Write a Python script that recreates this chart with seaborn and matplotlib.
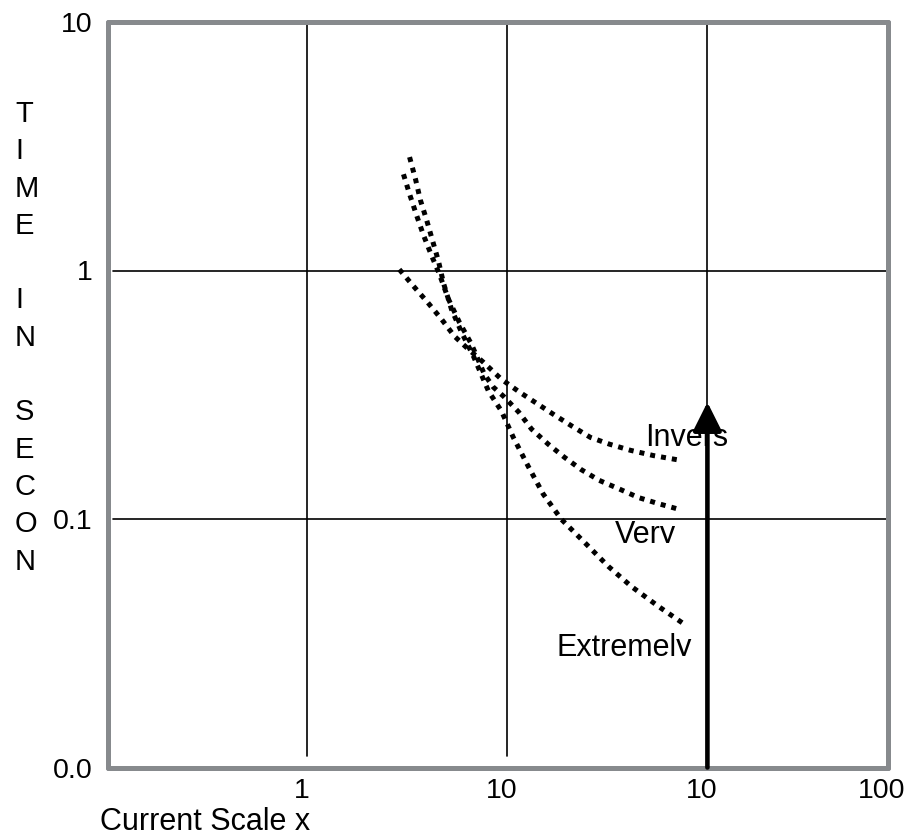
import numpy as np
import pandas as pd
import matplotlib
matplotlib.use("Agg")
import matplotlib.pyplot as plt
import matplotlib.transforms as mtransforms
from matplotlib.patches import Rectangle
import seaborn as sns

# curve data (current multiple vs time in seconds)
ext_x = [3.24, 3.47, 3.67, 3.94, 4.22, 4.52, 4.79, 5.25, 5.89, 6.76, 8.04,
         9.33, 10.7, 12.7, 15.1, 18.6, 24.3, 32.0, 41.7, 56.9, 76.7]
ext_y = [2.86, 2.33, 1.92, 1.60, 1.32, 1.09, 0.889, 0.698, 0.565, 0.452, 0.327,
         0.272, 0.213, 0.163, 0.126, 0.0997, 0.0805, 0.0644, 0.0535, 0.0445, 0.0377]

very_x = [3.02, 3.24, 3.51, 3.80, 4.17, 4.57, 5.07, 5.75, 6.61, 7.67, 8.51,
          9.55, 11.4, 13.2, 16.0, 19.3, 23.4, 28.8, 36.3, 45.2, 57.5, 73.3]
very_y = [2.44, 2.03, 1.67, 1.39, 1.15, 0.966, 0.767, 0.619, 0.505, 0.382, 0.339,
          0.312, 0.269, 0.230, 0.200, 0.177, 0.158, 0.143, 0.132, 0.122, 0.115, 0.109]

inv_x = [2.88, 3.39, 3.98, 4.68, 5.43, 6.38, 7.59, 9.33, 11.5, 14.0, 17.2,
         21.1, 26.0, 32.4, 41.2, 53.7, 74.1]
inv_y = [1.01, 0.865, 0.746, 0.637, 0.544, 0.482, 0.427, 0.365, 0.324, 0.292, 0.262,
         0.236, 0.213, 0.200, 0.189, 0.180, 0.172]

xticks = [1, 10, 100, 800]
xtick_labels = ["1", "10", "10", "100"]
yticks = [0.01, 0.1, 1, 10]
ytick_labels = ["0.0", "0.1", "1", "10"]
grid_x = [1, 10, 100]
grid_y = [1, 0.1]

arrow_x = 100
arrow_from = 0.01
arrow_to = 0.295

ylabel = "TIME IN SECON"
xlabel = "Current Scale x"

df = pd.concat([
    pd.DataFrame({"x": ext_x, "y": ext_y, "curve": "Extremely"}),
    pd.DataFrame({"x": very_x, "y": very_y, "curve": "Very"}),
    pd.DataFrame({"x": inv_x, "y": inv_y, "curve": "Invers"}),
], ignore_index=True)

sns.set_style("white")
plt.rcParams["font.family"] = ["Liberation Sans", "DejaVu Sans"]
plt.rcParams["text.color"] = "black"
plt.rcParams["xtick.color"] = "black"
plt.rcParams["ytick.color"] = "black"

W, H = 909, 834
fig = plt.figure(figsize=(W / 100, H / 100), dpi=100)
ax = fig.add_axes([107.5 / W, 1 - 767.5 / H, (888 - 107.5) / W, (767.5 - 22) / H])

ax.set_xscale("log")
ax.set_yscale("log")
ax.set_xlim(0.1, 800)
ax.set_ylim(0.01, 10)

for gx in grid_x:
    ax.axvline(gx, ymin=0.015, ymax=1, color="black", lw=1.2, zorder=1)
for gy in grid_y:
    ax.axhline(gy, xmin=0.007, xmax=1, color="black", lw=1.2, zorder=1)

sns.lineplot(data=df, x="x", y="y", hue="curve", palette=["black"] * 3,
             sort=False, estimator=None, legend=False, ax=ax,
             lw=3.6, linestyle=(0, (1, 1.2)), zorder=3)

ax.annotate("", xy=(arrow_x, arrow_to), xytext=(arrow_x, arrow_from),
            arrowprops=dict(arrowstyle="-|>,head_length=0.7,head_width=0.35",
                            lw=3.3, color="black", mutation_scale=25,
                            shrinkA=0, shrinkB=0), zorder=4)

labels = [("Invers", 49.0, 0.196, False),
          ("Very", 34.3, 0.0798, True),
          ("Extremely", 17.6, 0.028, True)]
for txt, lx, ly, cut in labels:
    t = ax.text(lx, ly, txt, fontsize=22, ha="left", va="baseline", zorder=5,
                color="black")
    if cut:
        # descenders are cut off at the baseline in the original
        clip = Rectangle((0.1, ly), 1000, 100, transform=ax.transData)
        t.set_clip_path(clip)
        t.set_clip_on(True)

ax.xaxis.set_minor_locator(matplotlib.ticker.NullLocator())
ax.yaxis.set_minor_locator(matplotlib.ticker.NullLocator())
ax.set_xticks(xticks)
ax.set_xticklabels(xtick_labels)
ax.set_yticks(yticks)
ax.set_yticklabels(ytick_labels)
ax.tick_params(axis="both", length=0, labelsize=20.5, labelcolor="black")
ax.tick_params(axis="x", pad=7.5)
ax.tick_params(axis="y", pad=11)
shift = mtransforms.ScaledTranslation(-6 / 100, 0, fig.dpi_scale_trans)
for lbl in ax.get_xticklabels():
    lbl.set_transform(lbl.get_transform() + shift)

for sp in ax.spines.values():
    sp.set_color("#878a8d")
    sp.set_linewidth(3.6)
    sp.set_capstyle("round")

ax.set_xlabel("")
ax.set_ylabel("")

for i, ch in enumerate(ylabel):
    fig.text(15 / W, 1 - (114 + 37.3 * i) / H, ch, fontsize=21,
             ha="left", va="center", color="black")
fig.text(100 / W, 1 - 830 / H, xlabel, fontsize=22, ha="left", va="baseline",
         color="black")

fig.savefig("out.png", dpi=100)
